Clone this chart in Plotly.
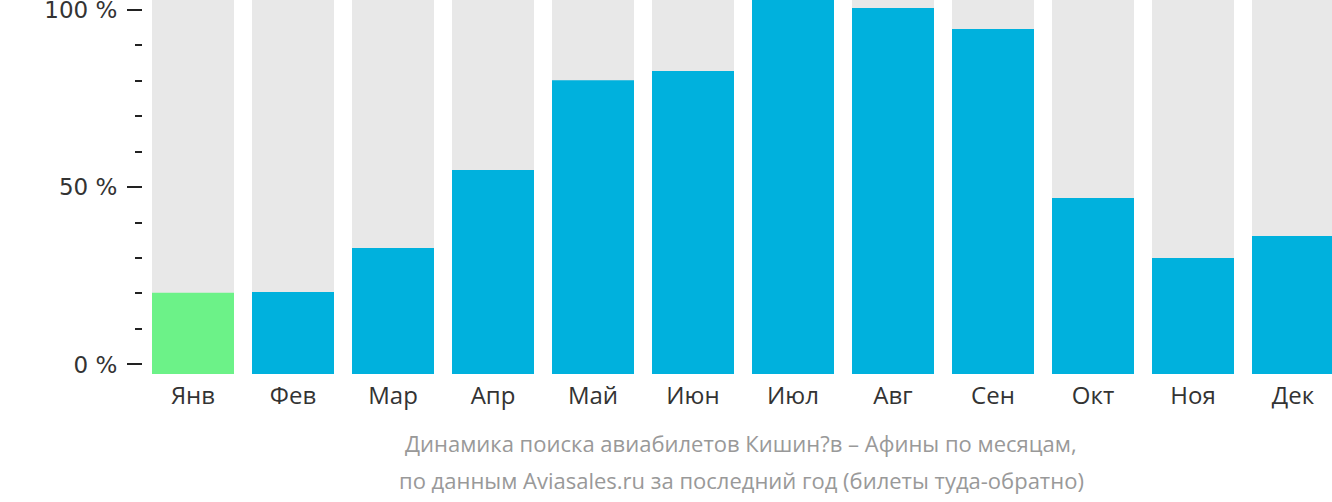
import plotly.graph_objects as go

months = ["Янв", "Фев", "Мар", "Апр", "Май", "Июн", "Июл", "Авг", "Сен", "Окт", "Ноя", "Дек"]
values = [20.2, 20.4, 32.8, 54.8, 80.1, 82.7, 103.0, 100.4, 94.5, 46.9, 30.0, 36.2]
highlight = [True] + [False] * 11
tick_vals = [0, 50, 100]
tick_text = ["0 %", "50 %", "100 %"]
title_lines = ["Динамика поиска авиабилетов Кишин?в – Афины по месяцам,",
               "по данным Aviasales.ru за последний год (билеты туда-обратно)"]

Y_MIN, Y_MAX = -2.68, 102.68
BLUE, GREEN, GRAY = "#00b1dd", "#6cf288", "#e8e8e8"

x = list(range(len(months)))
fig = go.Figure()
fig.add_trace(go.Bar(
    x=x, y=[Y_MAX - Y_MIN + 5] * len(months), base=Y_MIN,
    width=0.82, marker=dict(color=GRAY, line=dict(width=0)),
    hoverinfo="skip", showlegend=False))
fig.add_trace(go.Bar(
    x=x, y=[v - Y_MIN for v in values], base=Y_MIN,
    width=0.82, marker=dict(color=[GREEN if h else BLUE for h in highlight], line=dict(width=0)),
    showlegend=False))

fig.update_layout(
    barmode="overlay",
    width=1332, height=502,
    margin=dict(l=143, r=0, t=0, b=128, pad=0, autoexpand=False),
    plot_bgcolor="white", paper_bgcolor="white",
    font=dict(family="Open Sans", color="#333333"),
    xaxis=dict(range=[-0.5, 11.39], tickmode="array", tickvals=x, ticktext=months,
               showgrid=False, zeroline=False, showline=False, ticks="", automargin=False,
               tickfont=dict(family="Open Sans", size=24, color="#333333"),
               ticklabelstandoff=5),
    yaxis=dict(range=[Y_MIN, Y_MAX], tickmode="array", tickvals=tick_vals, ticktext=tick_text,
               showgrid=False, zeroline=False, showline=False, automargin=False,
               ticks="outside", ticklen=15, tickwidth=2, tickcolor="#222222",
               tickfont=dict(family="DejaVu Sans", size=23, color="#333333"),
               ticklabelstandoff=5, ticklabeloverflow="allow",
               minor=dict(tickmode="array", tickvals=[10, 20, 30, 40, 60, 70, 80, 90],
                          ticks="outside", ticklen=7, tickwidth=2, tickcolor="#222222",
                          showgrid=False)),
)
for i, line in enumerate(title_lines):
    fig.add_annotation(text=line, xref="paper", yref="paper",
                       x=0.503, y=-(443 - 374) / 374 - i * 37 / 374,
                       xanchor="center", yanchor="middle", showarrow=False,
                       font=dict(family="Open Sans", size=22, color="#999999"))

fig.write_html("out.html")
